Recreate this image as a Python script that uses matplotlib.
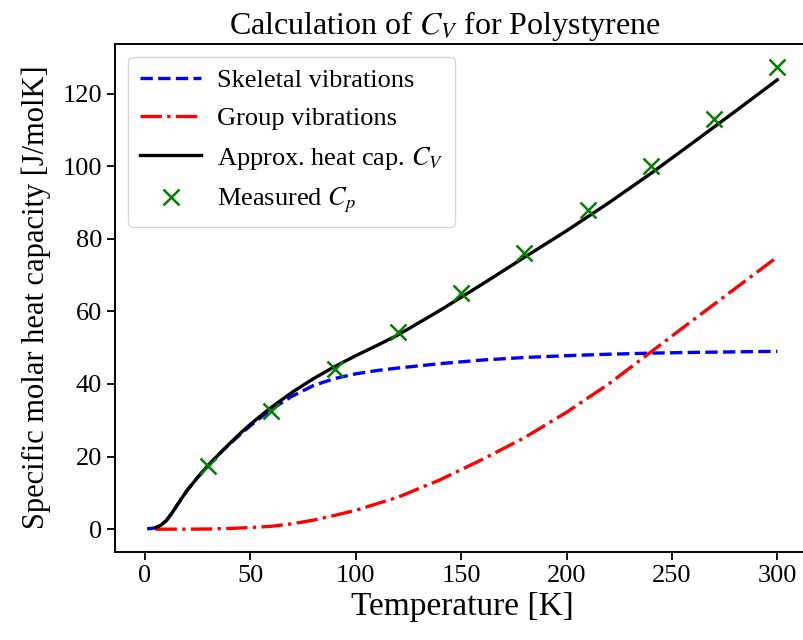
#Heat capacity of polystyrene: skeletal + group vibrations vs measured Cp
import numpy as np
import matplotlib
matplotlib.use("Agg")
import matplotlib.pyplot as plt

plt.rcParams['font.family'] = ['Liberation Serif', 'DejaVu Serif']
plt.rcParams['mathtext.fontset'] = 'stix'

#Values
T_skel = [1, 3, 5, 7.5, 10, 12.5, 15, 17.5, 20, 25, 30, 35, 40, 45, 50, 55, 60, 65, 70, 80, 90, 100, 110, 120, 140, 160, 180, 200, 220, 240, 260, 280, 300]
C_skel = [0.1, 0.2, 0.4, 1.1, 2.3, 4.2, 6.4, 8.6, 10.7, 14.3, 17.6, 20.6, 23.4, 26.0, 28.5, 30.8, 32.9, 34.9, 36.7, 39.6, 41.5, 42.8, 43.7, 44.4, 45.6, 46.6, 47.3, 47.8, 48.2, 48.5, 48.7, 48.85, 49.0]

T_group = [5, 10, 20, 30, 40, 50, 60, 70, 80, 90, 100, 120, 140, 160, 180, 200, 220, 240, 260, 280, 300]
C_group = [0.0, 0.0, 0.0, 0.05, 0.2, 0.45, 0.8, 1.5, 2.5, 3.8, 5.2, 8.8, 13.6, 19.2, 25.2, 32.2, 40.0, 48.8, 57.6, 66.3, 75.0]

T_tot = [5, 7.5, 10, 12.5, 15, 17.5, 20, 25, 30, 35, 40, 45, 50, 55, 60, 70, 80, 90, 100, 110, 120, 140, 160, 180, 200, 220, 240, 260, 280, 300]
C_tot = [0.4, 1.1, 2.3, 4.2, 6.4, 8.6, 10.7, 14.3, 17.6, 20.6, 23.5, 26.3, 28.9, 31.3, 33.6, 37.8, 41.5, 44.8, 47.8, 50.6, 53.5, 60.3, 67.5, 74.9, 82.2, 89.9, 98.0, 106.5, 115.1, 123.8]

T_meas = [30, 60, 90, 120, 150, 180, 210, 240, 270, 300]
Cp_meas = [17.5, 32.5, 44.0, 54.4, 65.0, 76.1, 87.9, 100.0, 113.1, 127.3]

fig = plt.figure(figsize=(8.04, 6.4), dpi=100)
ax = fig.add_axes([0.1434, 0.138, 0.8626, 0.794])  # right spine falls just outside the picture

ax.plot(T_skel, C_skel, '--', color='blue', linewidth=2.4, label='Skeletal vibrations')
ax.plot(T_group, C_group, '-.', color='red', linewidth=2.4, label='Group vibrations')
ax.plot(T_tot, C_tot, '-', color='black', linewidth=2.4, label=r'Approx. heat cap. $C_V$')
ax.plot(T_meas, Cp_meas, 'x', color='green', markersize=12, markeredgewidth=1.8, label=r'Measured $C_p$')

ax.set_xlim(-14.1, 314.95)
ax.set_ylim(-6.2, 133.8)
ax.set_xticks(np.arange(0, 301, 50))
ax.set_yticks(np.arange(0, 121, 20))
ax.tick_params(labelsize=19, length=6, width=1.3)
for s in ax.spines.values():
    s.set_linewidth(1.4)

ax.set_title(r'Calculation of $C_V$ for Polystyrene', fontsize=23, pad=7, x=0.475)
ax.set_xlabel('Temperature [K]', fontsize=24, labelpad=3)
ax.set_ylabel('Specific molar heat capacity [J/molK]', fontsize=22, labelpad=8)
ax.legend(loc='upper left', fontsize=19, handlelength=2.3, handletextpad=0.6,
          borderpad=0.45, labelspacing=0.55)

fig.savefig('out.png', dpi=100)
